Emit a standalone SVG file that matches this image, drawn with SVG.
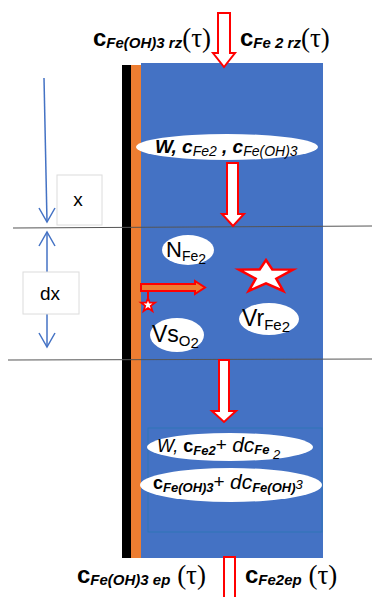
<svg xmlns="http://www.w3.org/2000/svg" width="372" height="597" viewBox="0 0 372 597">
  <defs>
    <style>
      .lbl { font-family: "Liberation Sans", Arial, sans-serif; fill: #000; }
      .b { font-weight: bold; }
      .i { font-style: italic; }
      .bi { font-weight: bold; font-style: italic; }
      .tau { font-family: "Liberation Serif", "DejaVu Serif", serif; font-size: 27px; }
      .hollow { fill: #fff; stroke: #ff0000; stroke-width: 2; stroke-linejoin: miter; }
      .cut { stroke: #555; stroke-width: 1; fill: none; }
      .dim { stroke: #4472c4; stroke-width: 1.5; fill: none; }
      .tag { fill: #fff; stroke: #dcdcdc; stroke-width: 1; }
      .oval { fill: #fff; }
    </style>
  </defs>

  <!-- column: wall, film and flow channel -->
  <g id="column">
    <rect x="122" y="65" width="9" height="493" fill="#000"/>
    <rect x="131" y="65" width="10" height="493" fill="#ed7d31"/>
    <rect x="141" y="63" width="182" height="495" fill="#4472c4"/>
  </g>

  <!-- inner element box -->
  <g id="element-box">
    <rect x="148" y="428" width="174" height="104" fill="none" stroke="#2e75b6" stroke-width="1"/>
  </g>

  <!-- connectors -->
  <g id="connectors">
    <!-- section cut lines -->
    <line class="cut" x1="13" y1="228" x2="372" y2="226"/>
    <line class="cut" x1="8" y1="360" x2="372" y2="359"/>
    <!-- x coordinate arrow -->
    <line class="dim" x1="44" y1="78" x2="47" y2="222"/>
    <polyline class="dim" points="39,208 47,222 55,208"/>
    <!-- dx dimension -->
    <line class="dim" x1="47" y1="232" x2="47" y2="347"/>
    <polyline class="dim" points="39,246 47,232 55,246"/>
    <polyline class="dim" points="39,333 47,347 55,333"/>
    <!-- flow arrows -->
    <polygon class="hollow" points="218,13 230,13 230,53 235,53 224,67 213,53 218,53"/>
    <polygon class="hollow" points="227,163 238,163 238,214 244,214 233,226 222,214 227,214"/>
    <polygon class="hollow" points="219,360 229,360 229,411 236,411 224,422 212,411 219,411"/>
    <polygon class="hollow" points="224,599 224,557 235,557 235,599"/>
    <!-- transfer from wall film -->
    <polygon points="141,284 195,284 195,281 205,287.5 195,294 195,291 141,291" fill="#ed7d31" stroke="#ff0000" stroke-width="2"/>
    <line x1="148" y1="291" x2="148" y2="300" stroke="#ff0000" stroke-width="2"/>
  </g>

  <!-- dimension tags -->
  <g id="tag-x">
    <rect class="tag" x="57" y="175" width="45" height="50"/>
    <text class="lbl" x="78" y="206" font-size="19" text-anchor="middle">x</text>
  </g>
  <g id="tag-dx">
    <rect class="tag" x="23" y="272" width="56" height="42"/>
    <text class="lbl" x="50" y="300" font-size="19" text-anchor="middle">dx</text>
  </g>

  <!-- boundary values at top -->
  <g id="top-left-label">
    <text class="lbl" x="93" y="46"><tspan class="b" font-size="24">c</tspan><tspan class="bi" font-size="15" dy="2">Fe(OH)3 rz</tspan><tspan class="tau" dy="-1">(τ)</tspan></text>
  </g>
  <g id="top-right-label">
    <text class="lbl" x="240" y="46"><tspan class="b" font-size="24">c</tspan><tspan class="bi" font-size="15" dy="2">Fe 2 rz</tspan><tspan class="tau" dy="-1">(τ)</tspan></text>
  </g>

  <!-- inflow state -->
  <g id="inflow">
    <ellipse class="oval" cx="227" cy="147" rx="91" ry="13"/>
    <text class="lbl" x="155" y="153"><tspan class="bi" font-size="19">W, c</tspan><tspan class="i" font-size="14" dy="3">Fe2</tspan><tspan class="bi" font-size="19" dy="-3"> , c</tspan><tspan class="i" font-size="14" dy="3">Fe(OH)3</tspan></text>
  </g>

  <!-- quantities inside dx -->
  <g id="n-fe2">
    <ellipse class="oval" cx="188" cy="250" rx="26" ry="15"/>
    <text class="lbl" x="166" y="257"><tspan font-size="22">N</tspan><tspan font-size="14" dy="4">Fe</tspan><tspan font-size="14" dy="3">2</tspan></text>
  </g>
  <g id="reaction-star">
    <polygon points="266,260 272.3,269.4 293,269.6 276.3,278.7 283.3,291 266,283.3 248.7,291 255.7,278.7 239,269.6 259.7,269.4" fill="#fff" stroke="#ff0000" stroke-width="2.5" stroke-linejoin="miter"/>
  </g>
  <g id="surface-star">
    <polygon points="148,298 149.7,302.6 155,302.7 150.8,305.8 152.4,311 148,308 143.6,311 145.2,305.8 141,302.7 146.3,302.6" fill="#fff" stroke="#ff0000" stroke-width="1.8"/>
  </g>
  <g id="vr-fe2">
    <ellipse class="oval" cx="269" cy="319" rx="30" ry="16"/>
    <text class="lbl" x="242" y="326"><tspan font-size="23">Vr</tspan><tspan font-size="15" dy="4">Fe</tspan><tspan font-size="15" dy="2">2</tspan></text>
  </g>
  <g id="vs-o2">
    <ellipse class="oval" cx="177" cy="335" rx="27" ry="17"/>
    <text class="lbl" x="152" y="342"><tspan font-size="23">Vs</tspan><tspan font-size="15" dy="4">O</tspan><tspan font-size="15" dy="2">2</tspan></text>
  </g>

  <!-- outflow state -->
  <g id="outflow-fe2">
    <ellipse class="oval" cx="230" cy="447" rx="83" ry="14"/>
    <text class="lbl" x="157" y="452"><tspan class="i" font-size="18">W, </tspan><tspan class="b" font-size="18">c</tspan><tspan class="bi" font-size="13" dy="3">Fe2</tspan><tspan font-size="19" dy="-4">+ </tspan><tspan class="i" font-size="21" dy="1">dc</tspan><tspan class="bi" font-size="13" dy="2">Fe </tspan><tspan class="i" font-size="13" dy="5">2</tspan></text>
  </g>
  <g id="outflow-feoh3">
    <ellipse class="oval" cx="231" cy="485" rx="91" ry="17"/>
    <text class="lbl" x="153" y="489"><tspan class="b" font-size="18">c</tspan><tspan class="bi" font-size="13" dy="3">Fe(OH)3</tspan><tspan font-size="19" dy="-4">+ </tspan><tspan class="i" font-size="21" dy="1">dc</tspan><tspan class="bi" font-size="13" dy="3">Fe(OH)</tspan><tspan class="i" font-size="13" dy="-3">3</tspan></text>
  </g>

  <!-- boundary values at bottom -->
  <g id="bottom-left-label">
    <text class="lbl" x="77" y="583"><tspan class="b" font-size="24">c</tspan><tspan class="bi" font-size="15" dy="2">Fe(OH)3 ep</tspan><tspan class="tau" dy="-1"> (τ)</tspan></text>
  </g>
  <g id="bottom-right-label">
    <text class="lbl" x="245" y="583"><tspan class="b" font-size="24">c</tspan><tspan class="bi" font-size="15" dy="2">Fe2ep</tspan><tspan class="tau" dy="-1"> (τ)</tspan></text>
  </g>
</svg>
